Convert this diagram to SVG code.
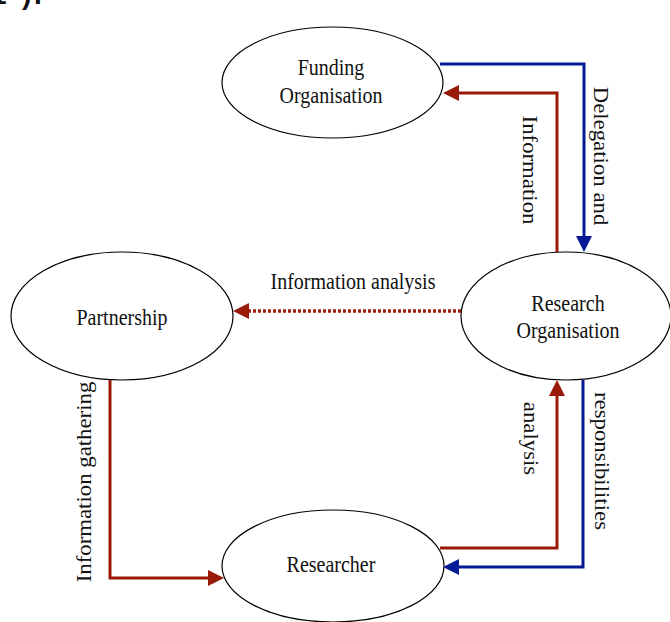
<svg xmlns="http://www.w3.org/2000/svg" width="670" height="622" viewBox="0 0 670 622">
<style>
.node ellipse{fill:#fff;stroke:#000;stroke-width:1.2}
text{font-family:"Liberation Serif","Times New Roman",serif;font-size:20px;fill:#111;text-anchor:middle}
.red{fill:none;stroke:#9a1a0a;stroke-width:3}
.blue{fill:none;stroke:#061a96;stroke-width:3}
.dot{fill:none;stroke:#a0200e;stroke-width:3.5;stroke-dasharray:3 2}
.frag{font-family:"Liberation Sans",Arial,sans-serif;font-weight:bold;font-size:28px;text-anchor:start}
</style>
<defs>
<marker id="ar" markerUnits="userSpaceOnUse" viewBox="0 0 16 16" markerWidth="16" markerHeight="16" refX="0" refY="8" orient="auto"><path d="M0,0 L16,8 L0,16 Z" fill="#9a1a0a"/></marker>
<marker id="ab" markerUnits="userSpaceOnUse" viewBox="0 0 16 16" markerWidth="16" markerHeight="16" refX="0" refY="8" orient="auto"><path d="M0,0 L16,8 L0,16 Z" fill="#061a96"/></marker>
</defs>
<rect width="670" height="622" fill="#fff"/>
<text class="frag" x="-9 22 34" y="4">1).</text>
<g id="funding" class="node">
<ellipse cx="332.5" cy="82.5" rx="110.5" ry="55.5"/>
<text transform="translate(331,75) scale(1,1.14)">Funding</text>
<text transform="translate(331,103) scale(1,1.14)">Organisation</text>
</g>
<g id="research" class="node">
<ellipse cx="566" cy="316" rx="105" ry="64"/>
<text transform="translate(568,311) scale(1,1.14)">Research</text>
<text transform="translate(568,338) scale(1,1.14)">Organisation</text>
</g>
<g id="partnership" class="node">
<ellipse cx="122" cy="316" rx="111" ry="64"/>
<text transform="translate(122,325) scale(1,1.14)">Partnership</text>
</g>
<g id="researcher" class="node">
<ellipse cx="333" cy="566" rx="111" ry="56"/>
<text transform="translate(331,572) scale(1,1.14)">Researcher</text>
</g>
<g id="connectors">
<path class="blue" d="M440,64 H584 V236" marker-end="url(#ab)"/>
<path class="red" d="M557,252 V93 H459" marker-end="url(#ar)"/>
<path class="dot" d="M461,311 H249" marker-end="url(#ar)"/>
<path class="red" d="M110,380 V578 H208" marker-end="url(#ar)"/>
<path class="red" d="M440,548 H557 V396" marker-end="url(#ar)"/>
<path class="blue" d="M583,380 V567 H459" marker-end="url(#ab)"/>
<text transform="translate(594,156) scale(1,1.14) rotate(90)">Delegation and</text>
<text transform="translate(523,170) scale(1,1.14) rotate(90)">Information</text>
<text transform="translate(353,289) scale(1,1.14)">Information analysis</text>
<text transform="translate(91,482) scale(1,1.14) rotate(-90)">Information gathering</text>
<text transform="translate(524,438.5) scale(1,1.14) rotate(90)">analysis</text>
<text transform="translate(595,461) scale(1,1.14) rotate(90)">responsibilities</text>
</g>
</svg>
